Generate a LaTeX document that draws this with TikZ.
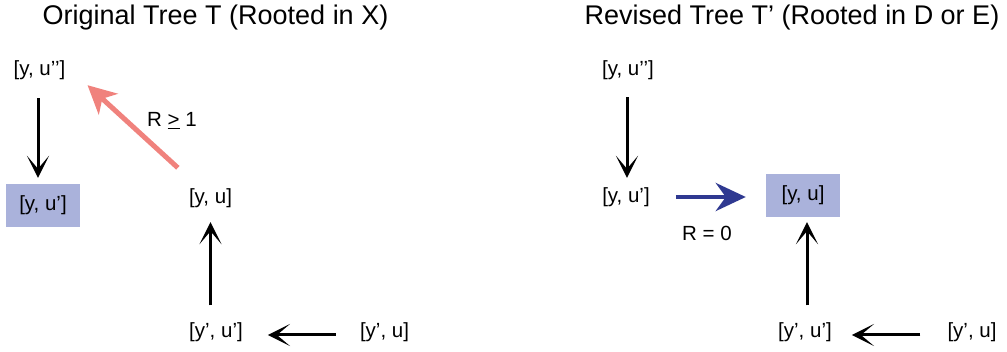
\documentclass[tikz,border=0pt]{standalone}
\usepackage{fontspec}
\setmainfont{Liberation Sans}
\usetikzlibrary{arrows.meta,calc}
\definecolor{boxc}{RGB}{170,178,219}
\definecolor{pinkc}{RGB}{240,130,125}
\definecolor{bluec}{RGB}{47,57,145}
\tikzset{
  lbl/.style={inner sep=0pt, text height=15pt, text depth=4pt, font=\fontsize{20.5}{24}\selectfont},
  hbox/.style={lbl, fill=boxc, minimum width=74pt, minimum height=43pt},
  ttl/.style={inner sep=0pt, font=\fontsize{27}{32}\selectfont},
  blk/.style={line width=3pt, -{Stealth[length=22pt,width=22pt,inset=13pt]}},
  pinkarr/.style={pinkc, line width=5pt, -{Stealth[length=28pt,width=28pt,inset=8pt]}},
  bluearr/.style={bluec, line width=4.5pt, -{Stealth[length=30pt,width=28pt,inset=10pt]}}
}
\begin{document}
\begin{tikzpicture}[x=1pt,y=-1pt]
\useasboundingbox (0,0) rectangle (1007,352);
% titles
\node[ttl] (t1) at (215.5,18) {Original Tree T (Rooted in X)};
\node[ttl] (t2) at (792,18) {Revised Tree T' (Rooted in D or E)};
% left tree
\node[lbl] (a1) at (39.5,70) {[y, u{'}{'}]};
\node[hbox] (b1) at (43,205.5) {[y, u']};
\node[lbl] (c1) at (210.5,198) {[y, u]};
\node[lbl] (d1) at (216,332.5) {[y', u']};
\node[lbl] (e1) at (384.5,332.5) {[y', u]};
\node[lbl] (r1) at (172,121) {R \underline{>} 1};
\draw[blk, shorten <=18.5pt, shorten >=6pt] ([xshift=-1.5pt]a1.south) -- ([xshift=-1.5pt]a1.south |- b1.north);
\draw[pinkarr] ([xshift=-11pt,yshift=20.5pt]c1.north west) -- ([xshift=22pt,yshift=-5.5pt]a1.south east);
\draw[blk, shorten <=17.5pt, shorten >=14.5pt] (c1.south |- d1.north) -- (c1.south);
\draw[blk, shorten <=24pt, shorten >=25pt] ([yshift=-2.5pt]e1.west) -- ([yshift=-2.5pt]d1.east);
% right tree
\node[lbl] (a2) at (628,70) {[y, u{'}{'}]};
\node[lbl] (b2) at (626,197) {[y, u']};
\node[hbox] (c2) at (803,195.5) {[y, u]};
\node[lbl] (d2) at (805,332.5) {[y', u']};
\node[lbl] (e2) at (972,332.5) {[y', u]};
\node[lbl] (r2) at (707,235) {R = 0};
\draw[blk, shorten <=17.5pt, shorten >=9.5pt] ([xshift=-1pt]a2.south) -- ([xshift=-1pt]a2.south |- b2.north);
\draw[bluearr, shorten <=26pt, shorten >=20pt] (b2.east) -- (b2.east -| c2.west);
\draw[blk, shorten <=17.5pt, shorten >=5pt] ([xshift=4pt]c2.south |- d2.north) -- ([xshift=4pt]c2.south);
\draw[blk, shorten <=27pt, shorten >=20pt] ([yshift=-2.5pt]e2.west) -- ([yshift=-2.5pt]d2.east);
\end{tikzpicture}
\end{document}
